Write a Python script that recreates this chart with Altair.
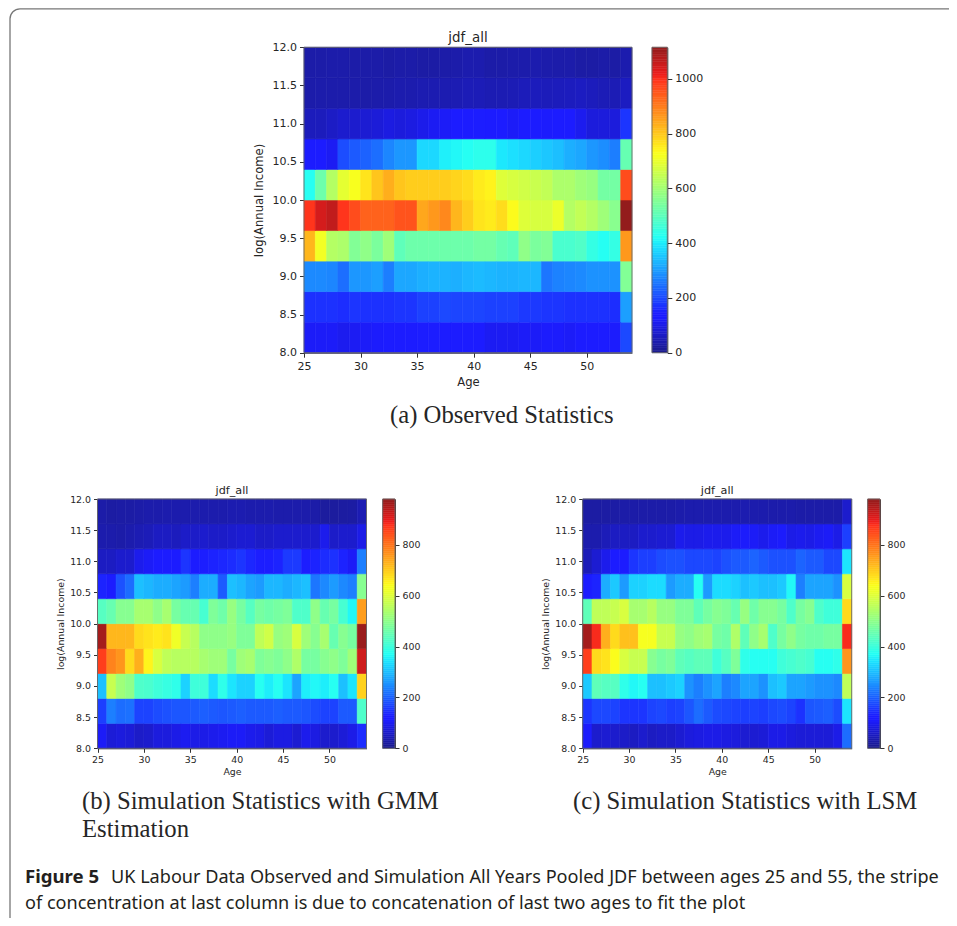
import altair as alt
import pandas as pd

ages = list(range(25, 54))
y_edges = [8.0, 8.4, 8.8, 9.2, 9.6, 10.0, 10.4, 10.8, 11.2, 11.6, 12.0]

# rows run from the lowest income band (8.0-8.4) to the highest (11.6-12.0); columns are ages 25..53
observed = [
    [115,115,115,105,110,115,120,125,125,125,140,140,130,130,130,125,110,110,110,115,115,120,120,115,125,130,125,120,195],
    [165,165,165,160,170,165,165,165,170,170,185,185,195,190,190,190,185,185,185,175,175,170,170,165,165,165,165,160,300],
    [275,275,270,240,290,290,300,260,310,310,320,325,325,320,330,335,330,325,325,330,330,250,265,270,275,285,285,285,550],
    [820,710,620,610,550,570,540,590,500,520,520,520,520,520,520,530,530,510,500,570,540,550,470,470,480,440,420,440,860],
    [990,1040,1060,990,960,930,930,930,950,950,840,860,880,820,790,760,750,770,730,680,670,670,700,620,640,620,590,560,1110],
    [420,520,620,690,720,760,800,830,800,790,790,790,790,780,770,750,740,680,670,660,650,640,610,610,590,580,530,530,960],
    [130,130,110,200,215,225,240,270,290,290,370,370,400,410,420,430,430,390,380,370,360,350,340,320,310,290,280,260,510],
    [50,50,60,70,70,75,80,90,85,90,100,110,115,125,135,140,135,125,115,125,130,120,125,130,105,85,85,85,170],
    [30,32,32,32,30,28,30,32,35,35,38,38,38,40,45,45,40,40,42,48,50,48,50,52,55,50,45,42,55],
    [28,28,30,30,28,28,28,25,28,28,25,25,28,30,35,35,28,28,30,32,35,32,30,30,25,25,28,25,35],
]
gmm = [
    [100,70,75,70,55,60,75,75,85,95,85,85,90,95,100,100,90,85,70,80,80,65,90,80,60,60,70,85,140],
    [160,230,210,215,165,165,175,180,185,185,190,195,190,185,190,195,190,190,190,195,190,190,185,175,165,165,190,190,420],
    [300,570,520,500,420,415,400,390,380,320,400,400,330,380,340,320,320,370,350,370,340,270,350,360,350,370,300,340,690],
    [860,780,760,680,730,650,590,560,550,550,550,530,520,520,470,520,530,480,490,480,500,540,470,470,490,500,480,520,920],
    [960,720,720,720,680,670,660,670,620,570,550,500,500,500,510,480,480,560,580,510,520,590,520,490,530,450,490,470,970],
    [430,450,490,490,530,530,500,530,470,450,450,410,480,460,510,470,430,470,460,470,480,420,420,500,450,470,410,360,750],
    [130,110,180,210,300,290,280,280,270,260,230,280,280,190,300,290,270,260,290,290,280,290,300,220,240,260,240,230,490],
    [50,50,60,60,90,100,110,110,110,150,110,125,130,135,140,150,135,125,125,130,155,155,125,130,140,145,130,100,230],
    [30,28,25,30,35,40,50,50,45,55,55,60,55,55,60,65,65,55,55,60,60,60,60,60,90,55,60,60,85],
    [25,20,22,22,25,28,28,30,30,30,30,30,30,30,32,32,30,30,30,28,28,28,28,25,15,15,18,20,35],
]
lsm = [
    [105,60,65,60,55,50,60,50,55,55,65,75,80,85,85,80,75,65,65,70,85,85,75,70,70,70,70,85,210],
    [150,170,170,165,150,150,150,165,170,160,165,185,210,190,175,170,165,160,165,160,170,175,165,145,185,190,195,175,340],
    [310,440,430,430,380,360,370,300,300,310,320,250,230,250,270,230,240,270,270,250,300,310,270,270,260,250,250,240,560],
    [860,680,670,640,590,570,570,490,470,480,440,430,440,440,400,430,480,380,370,370,370,400,410,420,410,370,370,380,760],
    [960,880,730,680,710,710,630,630,570,570,510,500,520,530,470,460,540,440,500,530,420,470,500,470,460,460,470,470,880],
    [440,560,560,570,590,530,530,550,510,510,480,480,440,470,490,480,450,510,460,490,490,470,420,470,490,420,400,400,680],
    [120,130,280,310,260,320,320,330,330,260,280,280,370,260,330,330,320,300,310,300,300,310,360,230,270,270,270,250,590],
    [40,65,90,110,115,150,160,160,175,180,180,170,170,170,165,180,190,190,200,190,180,180,180,200,190,190,170,170,340],
    [30,30,40,50,50,50,60,60,65,65,90,85,85,90,90,90,100,105,100,90,100,105,85,90,85,95,100,85,160],
    [20,20,20,22,25,25,25,25,25,25,28,30,30,30,30,30,30,32,30,30,28,28,28,25,25,25,25,25,60],
]

x_ticks = [25, 30, 35, 40, 45, 50]
y_ticks = [8.0, 8.5, 9.0, 9.5, 10.0, 10.5, 11.0, 11.5, 12.0]
bar_ticks_top = [0, 200, 400, 600, 800, 1000]
bar_ticks_low = [0, 200, 400, 600, 800]
caption_a = "(a) Observed Statistics"
caption_b = ["(b) Simulation Statistics with GMM", "Estimation"]
caption_c = "(c) Simulation Statistics with LSM"
fig_label = "Figure 5"
fig_line1 = "UK Labour Data Observed and Simulation All Years Pooled JDF between ages 25 and 55, the stripe"
fig_line2 = "of concentration at last column is due to concatenation of last two ages to fit the plot"

# matplotlib jet colour stops
jet_pos = [0, .11, .125, .34, .35, .375, .64, .65, .66, .89, .91, 1]
jet_rgb = [(0,0,.5),(0,0,1),(0,0,1),(0,.86,1),(0,.9,.99),(.04,1,.95),(.96,1,.02),(.98,1,0),(1,.96,0),(1,.1,0),(.91,0,0),(.5,0,0)]
ALPHA = 0.89


def hexcol(c):
    return "#%02x%02x%02x" % tuple(round(255 * (ALPHA * v + 1 - ALPHA)) for v in c)


jet_hex = [hexcol(c) for c in jet_rgb]
W, H = 941, 910
FONT = "DejaVu Sans"
TXT = "#262626"


def text(s, x, y, size, font, color=TXT, align="left", weight="normal"):
    return alt.Chart(pd.DataFrame({"t": [s]})).mark_text(
        font=font, fontSize=size, color=color, align=align, baseline="alphabetic",
        fontWeight=weight, x=x, y=y
    ).encode(text="t:N")


def panel(rows, vmax, bar_ticks, x0, x1, y0, y1, b0, b1, fs, ts, xpad, ypad, tick):
    """One heat map plus its colour bar, placed through the scales' pixel ranges."""
    cells = pd.DataFrame(
        [dict(age=a, age2=a + 1, lo=y_edges[i], hi=y_edges[i + 1], v=r[j])
         for i, r in enumerate(rows) for j, a in enumerate(ages)]
    )
    cs = alt.Scale(domain=[vmax * p for p in jet_pos], range=jet_hex, interpolate="rgb")
    xs = alt.Scale(domain=[25, 54], range=[x0, x1], nice=False, zero=False)
    ys = alt.Scale(domain=[8, 12], range=[y1, y0], nice=False, zero=False)
    ax = dict(grid=False, labelFont=FONT, labelFontSize=fs, labelColor=TXT, titleFont=FONT,
              titleFontSize=ts, titleColor=TXT, titleFontWeight="normal", tickColor="#333",
              domainColor="#333", tickSize=tick, labelPadding=3)
    hm = alt.Chart(cells).mark_rect(strokeWidth=0.6, opacity=1).encode(
        x=alt.X("age:Q", scale=xs, axis=alt.Axis(values=x_ticks, title="Age", orient="bottom",
                                                  offset=y1 - H, titlePadding=xpad, labelFlush=False, **ax)),
        x2="age2:Q",
        y=alt.Y("lo:Q", scale=ys, axis=alt.Axis(values=y_ticks, format=".1f", title="log(Annual Income)",
                                                 orient="left", offset=-x0, titlePadding=ypad, **ax)),
        y2="hi:Q",
        color=alt.Color("v:Q", scale=cs, legend=None),
        stroke=alt.Stroke("v:Q", scale=cs, legend=None),
    )
    levels = pd.DataFrame({"lv": [vmax * i / 128 for i in range(128)], "lv2": [vmax * (i + 1) / 128 for i in range(128)]})
    bxs = alt.Scale(domain=[0, 1], range=[b0, b1], nice=False, zero=False)
    bys = alt.Scale(domain=[0, vmax], range=[y1, y0], nice=False, zero=False)
    bar = alt.Chart(levels).transform_calculate(a="0", b="1").mark_rect(strokeWidth=0.5).encode(
        x=alt.X("a:Q", scale=bxs, axis=None),
        x2="b:Q",
        y=alt.Y("lv:Q", scale=bys, axis=alt.Axis(values=bar_ticks, format="d", title=None, orient="right",
                                                  offset=b1 - W, **ax)),
        y2="lv2:Q",
        color=alt.Color("lv:Q", scale=cs, legend=None),
        stroke=alt.Stroke("lv:Q", scale=cs, legend=None),
    )
    frame_df = pd.DataFrame({"a": [25], "b": [54], "c": [8], "d": [12]})
    frame = alt.Chart(frame_df).mark_rect(fillOpacity=0, stroke="#666", strokeWidth=0.9).encode(
        x=alt.X("a:Q", scale=xs, axis=None), x2="b:Q",
        y=alt.Y("c:Q", scale=ys, axis=None), y2="d:Q",
    )
    bar_frame = alt.Chart(pd.DataFrame({"a": [0], "b": [1], "c": [0], "d": [vmax]})).mark_rect(
        fillOpacity=0, stroke="#666", strokeWidth=0.9
    ).encode(
        x=alt.X("a:Q", scale=bxs, axis=None), x2="b:Q",
        y=alt.Y("c:Q", scale=bys, axis=None), y2="d:Q",
    )
    title = text("jdf_all", (x0 + x1) / 2, y0 - 5, ts + 1.8, FONT, TXT, align="center")
    return [hm, bar, frame, bar_frame, title]


SERIF = "Liberation Serif"
CAP = "Noto Sans"
border = alt.Chart(pd.DataFrame({"p": [0]})).mark_rect(
    fillOpacity=0, stroke="#777", strokeWidth=1.3, cornerRadius=10
).encode(x=alt.value(2), x2=alt.value(990), y=alt.value(0.8), y2=alt.value(960))

layers = [border]
layers += panel(observed, 1115, bar_ticks_top, 296, 624, 39.3, 344.7, 644, 659.3, 11, 11.6, 5, 8, 4.5)
layers += panel(gmm, 981, bar_ticks_low, 89.5, 358.5, 491, 740.3, 374.7, 387, 9.4, 9.4, 4, 4, 4)
layers += panel(lsm, 981, bar_ticks_low, 574.7, 843.7, 491, 740.3, 859.7, 872, 9.4, 9.4, 4, 4, 4)
layers += [
    text(caption_a, 382, 415, 24.7, SERIF),
    text(caption_b[0], 74, 801, 24.7, SERIF),
    text(caption_b[1], 74, 829, 24.7, SERIF),
    text(caption_c, 565, 801, 24.7, SERIF),
    text(fig_label, 17, 875, 18.6, CAP, "#231f20", weight="bold"),
    text(fig_line1, 103, 875, 18.1, CAP, "#231f20"),
    text(fig_line2, 17, 901, 18.1, CAP, "#231f20"),
]

chart = alt.layer(*layers).resolve_scale(
    x="independent", y="independent", color="independent", stroke="independent"
).resolve_axis(x="independent", y="independent").properties(
    width=W, height=H, padding=0, autosize=alt.AutoSizeParams(type="none"), background="white"
).configure_view(stroke=None)

chart.save("out.html", embed_options={"renderer": "svg", "actions": False})
